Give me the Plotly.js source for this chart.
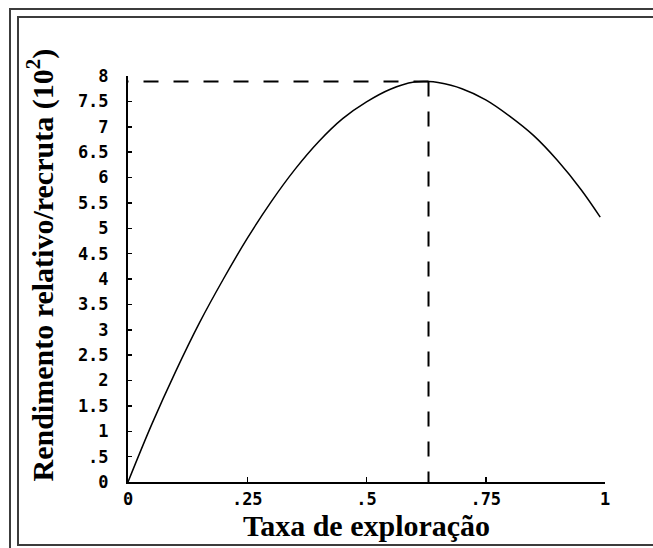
<!DOCTYPE html>
<html>
<head>
<meta charset="utf-8">
<script src="https://cdn.plot.ly/plotly-3.0.1.min.js"></script>
<style>
  html, body { margin: 0; padding: 0; background: #ffffff; overflow: hidden; }
  #wrap { position: relative; width: 653px; height: 548px; overflow: hidden; }
  .frame { position: absolute; border: 2px solid #3c3c3c; box-sizing: border-box; }
  #outer { left: 9px; top: 8px; width: 2000px; height: 2000px; }
  #inner { left: 17px; top: 16px; width: 2000px; height: 530px; }
  #chart { position: absolute; left: 0; top: 0; width: 653px; height: 548px; }
</style>
</head>
<body>
<div id="wrap">
  <div class="frame" id="outer"></div>
  <div class="frame" id="inner"></div>
  <div id="chart"></div>
</div>
<script>
// Relative yield per recruit against exploitation rate
const exploitationRate = [0, 0.05, 0.1, 0.15, 0.2, 0.25, 0.3, 0.35, 0.4, 0.45,
  0.5, 0.55, 0.6, 0.63, 0.65, 0.7, 0.75, 0.8, 0.85, 0.9, 0.95, 0.99];
const relativeYield = [0, 1.14, 2.18, 3.14, 4.00, 4.80, 5.52, 6.16, 6.71, 7.16,
  7.49, 7.74, 7.88, 7.89, 7.87, 7.75, 7.53, 7.21, 6.83, 6.34, 5.76, 5.22];

// Maximum of the curve
const peakRate = 0.63;
const peakYield = 7.89;

const xTickVals = [0, 0.25, 0.5, 0.75, 1];
const xTickText = ["0", ".25", ".5", ".75", "1"];
const yTickVals = [0, 0.5, 1, 1.5, 2, 2.5, 3, 3.5, 4, 4.5, 5, 5.5, 6, 6.5, 7, 7.5, 8];
const yTickText = ["0", ".5", "1", "1.5", "2", "2.5", "3", "3.5", "4", "4.5", "5",
  "5.5", "6", "6.5", "7", "7.5", "8"];

const xTitle = "Taxa de exploração";
const yTitle = "Rendimento relativo/recruta (10<sup>2</sup>)";

const dash = "15px,15px";

const traces = [
  {
    x: exploitationRate, y: relativeYield, mode: "lines",
    line: { color: "#000000", width: 1.5, shape: "spline", smoothing: 1 },
    hoverinfo: "skip"
  },
  {
    x: [peakRate, 0], y: [peakYield, peakYield], mode: "lines",
    line: { color: "#000000", width: 2, dash: dash }, hoverinfo: "skip"
  },
  {
    x: [peakRate, peakRate], y: [peakYield, 0], mode: "lines",
    line: { color: "#000000", width: 2, dash: dash }, hoverinfo: "skip"
  }
];

const tickFont = { family: "DejaVu Sans Mono", size: 17, color: "#000000", weight: "bold" };
const titleFont = { family: "Liberation Serif", size: 30, color: "#000000", weight: "bold" };

const layout = {
  width: 653, height: 548,
  margin: { l: 127.5, r: 48, t: 76, b: 66 },
  paper_bgcolor: "rgba(0,0,0,0)",
  plot_bgcolor: "rgba(0,0,0,0)",
  showlegend: false,
  xaxis: {
    range: [0, 1], showgrid: false, zeroline: false,
    showline: true, linecolor: "#000000", linewidth: 2,
    ticks: "inside", ticklen: 5, tickwidth: 1.5, tickcolor: "#000000",
    tickvals: xTickVals, ticktext: xTickText, tickfont: tickFont,
    ticklabelstandoff: 1,
    title: { text: xTitle, font: titleFont, standoff: 4 },
    fixedrange: true
  },
  yaxis: {
    range: [0, 8], showgrid: false, zeroline: false,
    showline: true, linecolor: "#000000", linewidth: 2,
    ticks: "inside", ticklen: 4, tickwidth: 1.5, tickcolor: "#000000",
    tickvals: yTickVals, ticktext: yTickText, tickfont: tickFont,
    ticklabelstandoff: 14,
    fixedrange: true
  },
  // vertical axis title, set slightly above the plot's centre line
  annotations: [{
    text: yTitle, font: titleFont, textangle: -90,
    xref: "paper", yref: "paper", x: -0.183, y: 0.535,
    xanchor: "center", yanchor: "middle", showarrow: false
  }]
};

Plotly.newPlot("chart", traces, layout, { displayModeBar: false, staticPlot: true });
</script>
</body>
</html>
